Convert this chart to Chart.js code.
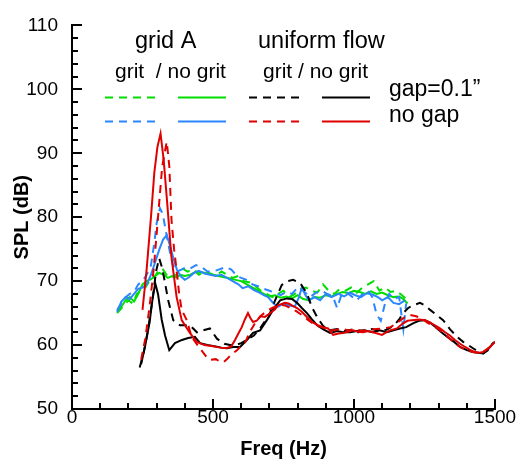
<!DOCTYPE html>
<html>
<head>
<meta charset="utf-8">
<script src="https://cdn.jsdelivr.net/npm/chart.js@4/dist/chart.umd.min.js"></script>
<style>
html,body{margin:0;padding:0;background:#fff;}
#wrap{width:516px;height:463px;position:relative;}
</style>
</head>
<body>
<div id="wrap"><canvas id="c" width="516" height="463"></canvas></div>
<script>
// ---- Data ----
const xTickValues = [0, 500, 1000, 1500];
const yTickValues = [50, 60, 70, 80, 90, 100, 110];

// uniform flow, no grit, no gap (red solid)
const redSolidF = [250,265,280,292,303,314,325,338,352,371,389,418,442,470,500,525,548,565,578,590,602,613,624,633,642,655,668,684,697,709,720,730,742,755,768,780,798,815,833,851,872,890,908,926,945,961,980,996,1015,1032,1050,1067,1083,1099,1114,1128,1152,1174,1190,1206,1230,1252,1270,1287,1305,1323,1340,1358,1376,1394,1410,1429,1445,1458,1470,1482,1500];
const redSolidV = [65.5,72,80,87,91,93.1,89,82,74,67.5,63.9,61.9,60.5,60,59.8,59.6,59.5,59.8,60.8,61.8,62.8,64,65,64.2,63.6,63.8,64.5,64.4,64.8,65.2,65.6,66.2,66.4,66.6,66.5,66.2,65.8,65.2,64.4,63.6,63.1,62.8,62.6,61.6,61.8,61.9,62.1,62.3,62.1,62,62.2,62,61.8,61.6,62,62.3,62.6,63.4,63.8,63.9,64,63.9,63.5,63.1,62.6,62,61.5,60.8,60.2,59.7,59.3,58.9,58.8,58.9,59.3,59.7,60.5];

// uniform flow, grit, no gap (red dashed)
const redDashF = [245,260,275,290,305,320,336,345,353,362,371,380,389,407,424,445,462,478,489,510,525,536,550,560,571,585,596,615,630,650,670,690,710,735,755,775,795,815,838,862,885,905,930,955,980,1005,1030,1055,1080,1105,1130,1150,1175,1199,1220,1240,1260,1280,1300,1320,1340,1360,1380,1400,1420,1440,1460,1480,1500];
const redDashV = [57.7,61,66,72,80,88,91.8,88,79.5,75,71.7,68,65.5,63.9,61.3,60,59,58.1,57.7,57.8,57.4,57.3,57.8,58.3,58.7,59.2,59.7,60.5,62,63.5,64.6,65.3,65.8,66.3,66.2,65.8,65.3,64.7,63.9,63.1,62.8,62.5,62.3,62.6,62.3,62.5,62.2,62.4,62.5,62.6,62.8,63.4,64.2,64.7,64.5,64.2,63.5,63,62.5,61.8,61,60.2,59.6,59.2,58.9,58.8,59,59.6,60.5];

// uniform flow, no grit, gap=0.1" (black solid)
const blackSolidF = [245,260,275,285,295,305,318,330,345,365,390,412,436,454,480,505,530,550,571,596,620,642,667,691,713,738,762,780,798,815,833,851,869,890,915,940,960,986,1010,1035,1067,1090,1117,1140,1163,1185,1209,1230,1250,1270,1290,1310,1330,1355,1376,1400,1422,1440,1458,1475,1493,1500];
const blackSolidV = [57,60,63.5,67,69.7,68,64,61.5,59.2,60.3,60.8,61.1,61.3,60.3,60,59.8,59.6,59.5,59.7,59.7,60.8,61.9,62.3,63.9,65.5,67,67.3,67.2,66.6,65.8,65,64,63.1,62.5,61.9,62.2,62,62,62.2,62.3,62,62.3,62,62.3,62.6,62.8,63.4,63.8,63.9,63.5,62.8,62,61.3,60.5,59.7,59.2,58.9,58.8,58.7,59.3,60.3,60.5];

// uniform flow, grit, gap=0.1" (black dashed)
const blackDashF = [240,255,270,285,298,309,320,330,341,359,383,418,443,465,489,514,540,560,580,600,620,645,667,685,702,725,744,765,784,809,833,850,869,890,915,940,965,990,1015,1040,1065,1090,1115,1140,1160,1174,1192,1209,1234,1252,1270,1293,1316,1340,1365,1387,1405,1422,1440,1458,1475,1493];
const blackDashV = [56.5,59,62.5,67,71.5,73.6,72,69.7,67,63.9,63.1,63.1,62,62.3,62.6,61,60.2,60,60,60.3,60.8,61.5,62.6,63.8,65,67.5,69.4,70,70.2,69.7,68.1,66,64.4,63,62.3,62.5,62.2,62.4,62,62.3,62.5,62.2,62.4,63,64,65,65.8,66.2,66.6,66.2,65.5,64.7,63.9,62.5,61.3,60.5,60,59.5,59,58.7,59.2,60.3];

// grid A, grit, no gap (blue dashed)
const blueDashF = [160,175,190,205,220,235,250,265,280,292,300,312,322,332,345,358,372,388,405,420,440,460,480,500,520,545,565,585,600,620,640,660,680,700,720,740,760,780,800,820,845,865,885,905,925,940,955,975,995,1010,1030,1050,1065,1080,1095,1110,1125,1140,1160,1175,1185];
const blueDashV = [65.5,66.5,67.5,68,68.3,69.5,70,71,72.5,76,79,81.4,80.5,78,75,72.5,71.5,71.8,72.2,72,72.5,72.2,71.5,71.5,71.8,72.2,71.8,70.8,70.5,70.2,69.5,69.2,68.8,68.5,68.2,67.8,68.3,68,69,68.5,67.5,68.2,68.5,68,67.6,65.8,67.8,68.2,67.5,67,68,68.5,67.5,64.8,63.8,66.5,68,67.2,67.5,62.5,66.5];

// grid A, no grit, no gap (blue solid)
const blueSolidF = [160,175,190,205,220,235,250,265,280,295,310,323,336,348,360,372,385,400,415,430,450,470,490,510,530,550,570,590,605,625,645,665,680,695,715,730,750,770,790,805,815,828,840,860,880,900,920,945,965,985,1005,1025,1045,1065,1085,1100,1120,1140,1160,1180];
const blueSolidV = [65.2,66.8,67.5,67.2,68,68.8,69,69.5,71,73,75,76.5,77.2,75.5,73.5,71.8,70.8,70.2,70.6,71.2,71.6,71.2,71,70.8,71,70.5,70,69.5,68.9,69.2,68.6,68.2,67.8,67.5,66.5,66,66.5,66.2,66,67.5,69,67.8,67,67.5,67,68,67.5,68,67.6,68.2,67.8,67.5,68.1,67.9,67.5,67,67.5,66.6,66.4,67];

// grid A, grit, gap=0.1" (green dashed)
const greenDashF = [160,180,200,215,230,245,260,275,290,305,320,335,350,370,390,410,430,450,470,490,510,530,550,570,590,610,630,650,670,690,710,730,750,770,790,810,830,850,870,890,910,930,950,970,990,1010,1030,1050,1070,1090,1110,1130,1150,1170,1190];
const greenDashV = [65,66,67,66.5,68,68.5,69,70,70.5,71.5,72,71,70.5,71,72,71.5,71.8,71,71.5,71.2,70.8,71.5,71,70.5,70.8,70,69.8,69.2,68.5,68,67.5,68,68.5,67.5,68,68.8,69,68.5,68.2,69.5,68.5,68,68.8,68.5,69,68.2,69,69.5,70,68.5,69,68.3,68.5,67.8,67];

// grid A, no grit, gap=0.1" (green solid)
const greenSolidF = [160,175,190,205,220,235,250,265,280,295,310,325,340,355,370,385,400,420,440,460,480,500,520,540,560,580,600,620,640,660,680,700,720,740,760,780,800,820,840,860,880,900,920,940,960,980,1000,1020,1040,1060,1080,1100,1120,1140,1160,1175,1190];
const greenSolidV = [65.3,66,67,67.5,66.8,68,69.5,70,70.3,70.8,71.3,71,70.5,70.8,70.6,71,70.8,71,71.5,71.4,71.2,71,70.8,70.6,70.4,70.2,70,69.5,69,68.5,68,67.6,67.8,67.4,67.6,67.3,67.8,67.2,67,67.5,67.4,67.8,67.6,68,68.3,68.1,68.5,68.3,68,68.4,68,68.2,67.8,67.5,67.6,67.2,66.5];

// ---- Styles ----
const GREEN = '#00dd00', BLUE = '#2b86ff', BLACK = '#000000', RED = '#e00000';
const DASH = [8, 6];
const FONT = "'Liberation Sans', Arial, Helvetica, sans-serif";

function pts(f, v) { return f.map((x, i) => ({ x: x, y: v[i] })); }
function ds(label, f, v, color, dashed) {
  return { label, data: pts(f, v), borderColor: color, backgroundColor: color,
    borderWidth: 2, borderDash: dashed ? DASH : [], pointRadius: 0, showLine: true,
    tension: 0, fill: false };
}

const datasets = [
  ds('uniform no grit no gap', redSolidF, redSolidV, RED, false),
  ds('uniform grit no gap', redDashF, redDashV, RED, true),
  ds('uniform no grit gap', blackSolidF, blackSolidV, BLACK, false),
  ds('uniform grit gap', blackDashF, blackDashV, BLACK, true),
  ds('grid A no grit no gap', blueSolidF, blueSolidV, BLUE, false),
  ds('grid A grit no gap', blueDashF, blueDashV, BLUE, true),
  ds('grid A no grit gap', greenSolidF, greenSolidV, GREEN, false),
  ds('grid A grit gap', greenDashF, greenDashV, GREEN, true)
];

// inward tick marks (major + minor) drawn through the chart's scales
const tickPlugin = {
  id: 'inwardTicks',
  afterDraw(chart) {
    const ctx = chart.ctx, xs = chart.scales.x, ys = chart.scales.y;
    const bottom = ys.getPixelForValue(50), left = xs.getPixelForValue(0);
    ctx.save();
    ctx.strokeStyle = '#000'; ctx.lineWidth = 2;
    for (let f = 0; f <= 1500; f += 100) {
      const px = Math.round(xs.getPixelForValue(f));
      const len = (f % 500 === 0) ? 10 : 6;
      ctx.beginPath(); ctx.moveTo(px, bottom); ctx.lineTo(px, bottom - len); ctx.stroke();
    }
    for (let d = 50; d <= 110; d += 2) {
      const py = Math.round(ys.getPixelForValue(d));
      const len = (d % 10 === 0) ? 10 : 6;
      ctx.beginPath(); ctx.moveTo(left, py); ctx.lineTo(left + len, py); ctx.stroke();
    }
    ctx.restore();
  }
};

// the in-plot legend
const legendPlugin = {
  id: 'customLegend',
  afterDraw(chart) {
    const ctx = chart.ctx;
    ctx.save();
    ctx.fillStyle = '#000';
    ctx.textBaseline = 'alphabetic';
    ctx.textAlign = 'left';
    ctx.font = '23.5px ' + FONT;
    ctx.fillText('grid A', 135, 48);
    ctx.fillText('uniform flow', 258, 48);
    ctx.font = '21px ' + FONT;
    ctx.fillText('grit  / no grit', 115, 78);
    ctx.fillText('grit / no grit', 263, 78);
    ctx.font = '23px ' + FONT;
    ctx.fillText('gap=0.1\u201D', 389, 96);
    ctx.fillText('no gap', 389, 122);
    const rows = [
      { y: 97.5, items: [[105,155,GREEN,true],[178,226,GREEN,false],[249,299,BLACK,true],[322,370,BLACK,false]] },
      { y: 121.5, items: [[105,155,BLUE,true],[178,226,BLUE,false],[249,299,RED,true],[322,370,RED,false]] }
    ];
    ctx.lineWidth = 2;
    rows.forEach(r => r.items.forEach(([a, b, c, d]) => {
      ctx.strokeStyle = c;
      ctx.setLineDash(d ? DASH : []);
      ctx.beginPath(); ctx.moveTo(a, r.y); ctx.lineTo(b, r.y); ctx.stroke();
    }));
    ctx.restore();
  }
};

new Chart(document.getElementById('c'), {
  type: 'scatter',
  data: { datasets },
  options: {
    responsive: false,
    animation: false,
    devicePixelRatio: 1,
    layout: { padding: { top: 25, right: 21, left: 0, bottom: 0 } },
    plugins: { legend: { display: false }, tooltip: { enabled: false } },
    scales: {
      x: {
        type: 'linear', min: 0, max: 1500,
        afterBuildTicks: s => { s.ticks = xTickValues.map(v => ({ value: v })); },
        afterFit: s => { s.height = 54; },
        grid: { display: false, drawTicks: false, tickLength: 0 },
        border: { display: true, color: '#000', width: 2 },
        ticks: { color: '#000', padding: -3, maxRotation: 0, font: { family: FONT, size: 19 },
          callback: v => String(v) },
        title: { display: true, text: 'Freq (Hz)', color: '#000', padding: { top: 0, bottom: 2 },
          font: { family: FONT, size: 20, weight: 'bold' } }
      },
      y: {
        type: 'linear', min: 50, max: 110,
        afterBuildTicks: s => { s.ticks = yTickValues.map(v => ({ value: v })); },
        afterFit: s => { s.width = 72; },
        grid: { display: false, drawTicks: false, tickLength: 0 },
        border: { display: true, color: '#000', width: 2 },
        ticks: { color: '#000', padding: 14, font: { family: FONT, size: 19 },
          callback: v => String(v) },
        title: { display: true, text: 'SPL (dB)', color: '#000', padding: { top: 10, bottom: 0 },
          font: { family: FONT, size: 20, weight: 'bold' } }
      }
    }
  },
  plugins: [tickPlugin, legendPlugin]
});
</script>
</body>
</html>
